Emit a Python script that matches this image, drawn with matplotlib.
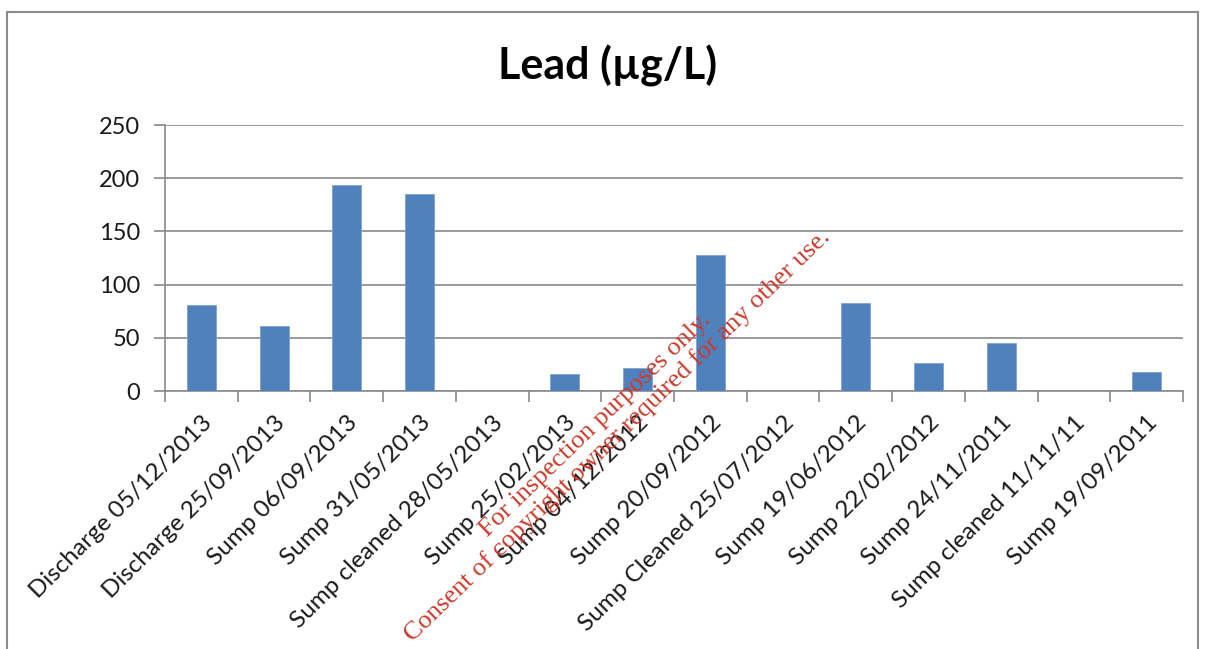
import numpy as np
import matplotlib
matplotlib.use("Agg")
import matplotlib.pyplot as plt
from matplotlib.patches import Rectangle

# Lead results per sampling event
labels = [
    "Discharge 05/12/2013", "Discharge 25/09/2013", "Sump 06/09/2013",
    "Sump 31/05/2013", "Sump cleaned 28/05/2013", "Sump 25/02/2013",
    "Sump 04/12/2012", "Sump 20/09/2012", "Sump Cleaned 25/07/2012",
    "Sump 19/06/2012", "Sump 22/02/2012", "Sump 24/11/2011",
    "Sump cleaned 11/11/11", "Sump 19/09/2011",
]
lead = [81, 61, 194, 185, 0, 16, 22, 128, 0, 83, 26, 45, 0, 18]
y_ticks = [0, 50, 100, 150, 200, 250]

plt.rcParams["font.family"] = ["Lato", "DejaVu Sans"]

fig = plt.figure(figsize=(12.07, 6.49), dpi=100)
fig.patch.set_facecolor("white")

# outer chart frame
fig.patches.append(Rectangle((7 / 1207, -0.05), 1191 / 1207, 1.05 - 12 / 649,
                             transform=fig.transFigure, fill=False,
                             edgecolor="#8c8c8c", linewidth=1.5))

ax = fig.add_axes([165 / 1207, 1 - 391 / 649, 1018 / 1207, 266 / 649])

x = np.arange(len(labels))
ax.bar(x, lead, width=0.4, color="#4f81bd", edgecolor="#7fa2cf", linewidth=0.6, zorder=3)

ax.set_xlim(-0.5, len(labels) - 0.5)
ax.set_ylim(0, 250)
ax.set_yticks(y_ticks)
ax.yaxis.grid(True, color="#8a8a8a", linewidth=1.2, zorder=0)

# ticks on category boundaries, labels under the bars
ax.set_xticks(np.arange(len(labels) + 1) - 0.5)
ax.set_xticklabels([])
ax.set_xticks(x, minor=True)
ax.set_xticklabels(labels, minor=True, rotation=45, ha="right", va="top",
                   rotation_mode="anchor", fontsize=17.5, color="#1a1a1a")
ax.tick_params(axis="x", which="major", direction="out", length=8, width=1.2, color="#8a8a8a")
ax.tick_params(axis="x", which="minor", length=0, pad=15)
ax.tick_params(axis="y", direction="out", length=8, width=1.2, color="#8a8a8a",
               labelsize=17, labelcolor="#1a1a1a", pad=10)

for side in ("top", "right"):
    ax.spines[side].set_visible(False)
for side in ("left", "bottom"):
    ax.spines[side].set_color("#8a8a8a")
    ax.spines[side].set_linewidth(1.2)

fig.text(608 / 1207, 1 - 66 / 649, "Lead (µg/L)", ha="center", va="center",
         fontsize=31, fontweight="bold", color="black")

# stamp text across the chart
stamp = dict(ha="center", va="center", rotation=44, rotation_mode="anchor",
             color="#cc3a2a", fontsize=19, family=["Liberation Serif", "DejaVu Serif"])
fig.text(595 / 1207, 1 - 425 / 649, "For inspection purposes only.", **stamp)
fig.text(617 / 1207, 1 - 436 / 649, "Consent of copyright owner required for any other use.", **stamp)

fig.savefig("out.png", dpi=100)
